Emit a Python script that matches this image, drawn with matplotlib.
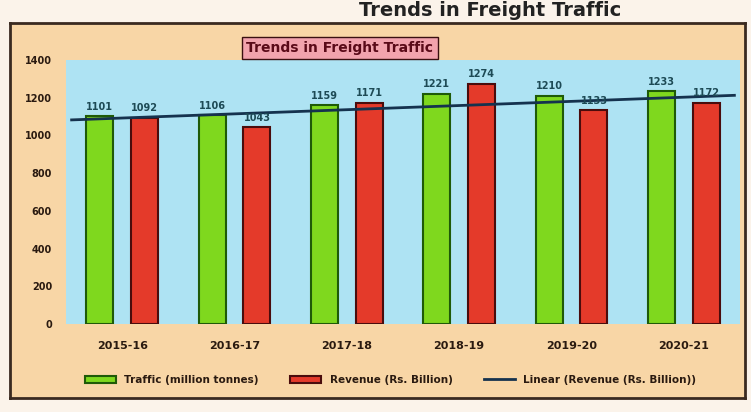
import matplotlib
matplotlib.use("Agg")
import matplotlib.pyplot as plt
import numpy as np
from matplotlib.patches import Rectangle

years = ["2015-16", "2016-17", "2017-18", "2018-19", "2019-20", "2020-21"]
traffic = [1101, 1106, 1159, 1221, 1210, 1233]
revenue = [1092, 1043, 1171, 1274, 1133, 1172]
yticks = [0, 200, 400, 600, 800, 1000, 1200, 1400]

W, H = 751, 412
fig = plt.figure(figsize=(W / 100, H / 100), dpi=100)
fig.patch.set_facecolor("#fbf3ea")

# chart frame (background axes)
bg = fig.add_axes([10 / W, 1 - 398 / H, 735 / W, 375 / H], zorder=0)
bg.set_facecolor("#f8d6a6")
bg.set_xticks([])
bg.set_yticks([])
for s in bg.spines.values():
    s.set_color("#3a2a20")
    s.set_linewidth(2)

ax = fig.add_axes([66 / W, 1 - 324 / H, 674 / W, 264 / H], zorder=1)
ax.set_facecolor("#aee3f3")
x = np.arange(len(years))
bw = 0.24
off = 0.2
b1 = ax.bar(x - off, traffic, bw, color="#7fd81e", edgecolor="#1f5a08", lw=1.5, zorder=3,
            label="Traffic (million tonnes)")
b2 = ax.bar(x + off, revenue, bw, color="#e43a2a", edgecolor="#4a0c0c", lw=1.5, zorder=3,
            label="Revenue (Rs. Billion)")
coef = np.polyfit(x, revenue, 1)
xl = np.array([-0.45, 5.45])
ln, = ax.plot(xl, np.polyval(coef, xl), color="#15324e", lw=2, zorder=4,
              label="Linear (Revenue (Rs. Billion))")

for xi, v in zip(x, traffic):
    ax.text(xi - off, v + 25, str(v), ha="center", va="bottom", fontsize=7, fontweight="bold",
            color="#1d4a55", zorder=5)
for xi, v in zip(x, revenue):
    ax.text(xi + off, v + 25, str(v), ha="center", va="bottom", fontsize=7, fontweight="bold",
            color="#1d4a55", zorder=5)

ax.set_xlim(-0.5, 5.5)
ax.set_ylim(0, 1400)
ax.set_yticks(yticks)
ax.set_yticklabels([str(t) for t in yticks], fontsize=7, fontweight="bold", color="#2a1a10")
ax.set_xticks(x)
ax.set_xticklabels(years, fontsize=8, fontweight="bold", color="#2a1a10")
ax.tick_params(axis="x", length=0, pad=12)
ax.tick_params(axis="y", length=0, pad=10)
for s in ax.spines.values():
    s.set_visible(False)

leg = fig.legend([b1, b2, ln], [b1.get_label(), b2.get_label(), ln.get_label()],
                 loc="center", bbox_to_anchor=(0.52, 1 - 380 / H), ncol=3, frameon=False,
                 prop={"size": 7.5, "weight": "bold"}, handlelength=3, columnspacing=3)
for t in leg.get_texts():
    t.set_color("#2a1a10")

fig.text(340 / W, 1 - 48 / H, "Trends in Freight Traffic", ha="center", va="center",
         fontsize=10, fontweight="bold", color="#5a0a18", zorder=6,
         bbox=dict(boxstyle="square,pad=0.3", facecolor="#f2a3ad", edgecolor="#3a1010", lw=1))

fig.text(490 / W, 1 - 11 / H, "Trends in Freight Traffic", ha="center", va="center",
         fontsize=14, fontweight="bold", color="#222222")

fig.savefig("out.png", dpi=100, facecolor=fig.get_facecolor())
